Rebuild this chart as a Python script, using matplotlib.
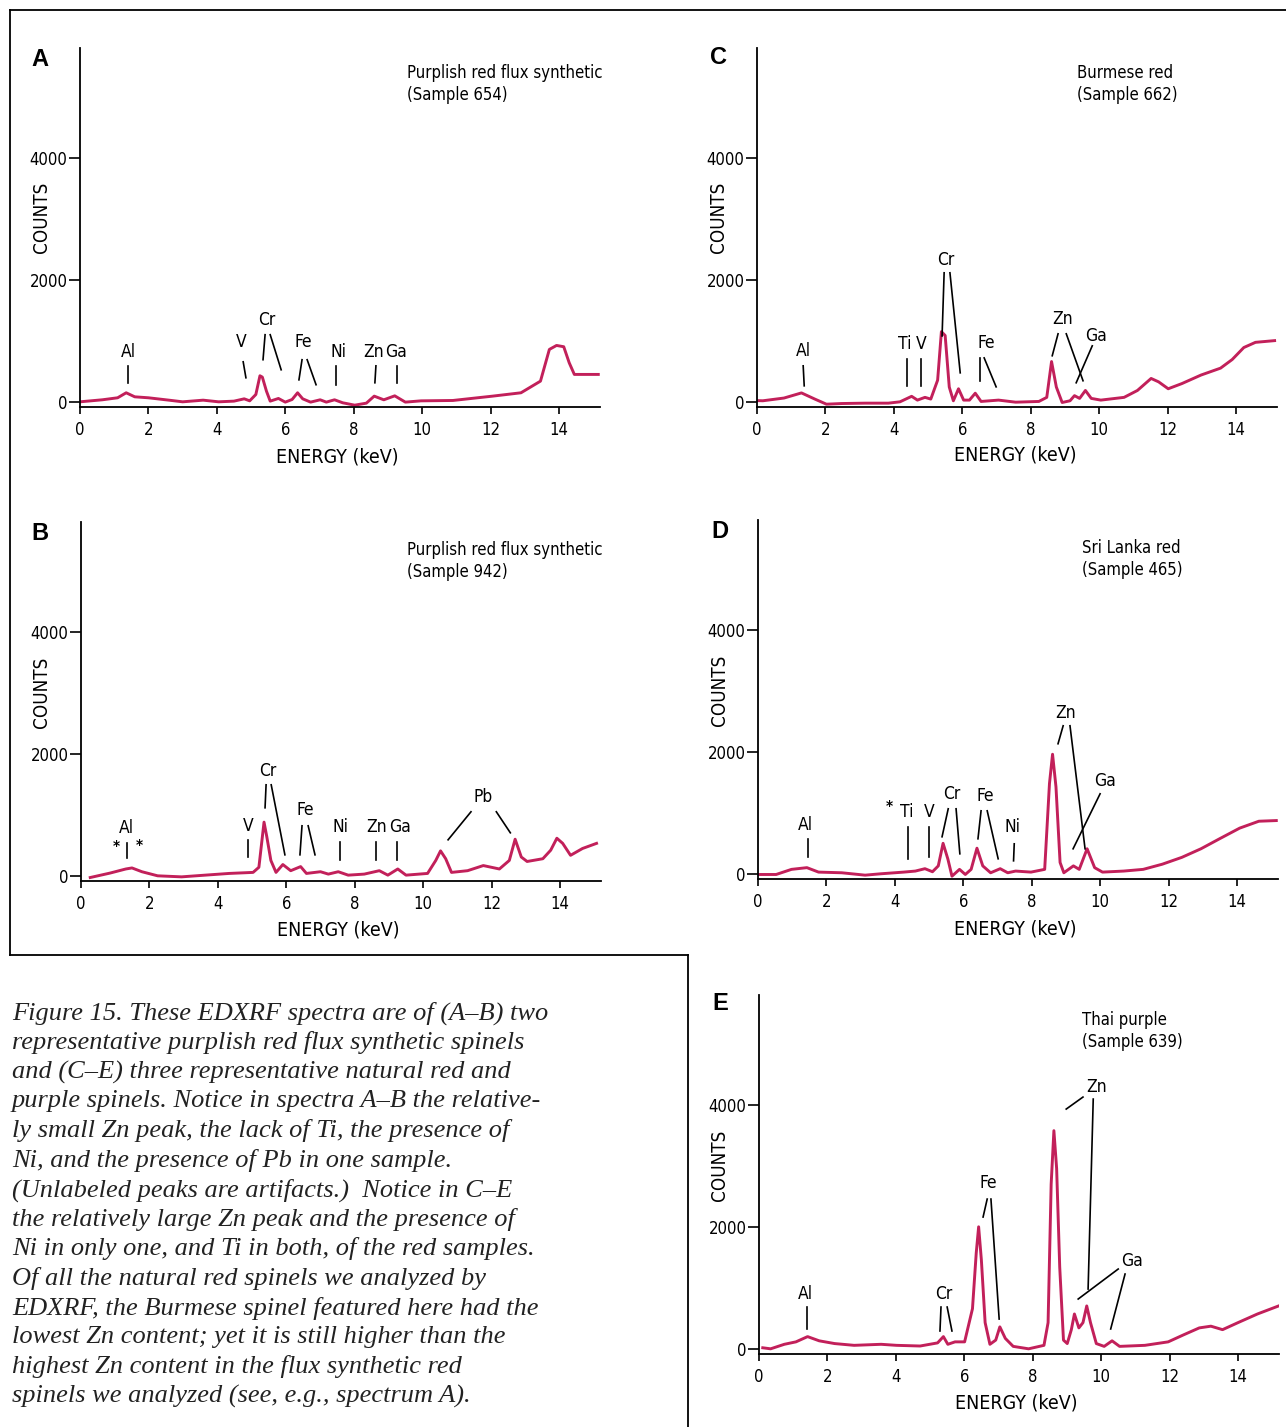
import matplotlib.pyplot as plt
from matplotlib.lines import Line2D

W, H = 1286, 1427
SANS = ['DejaVu Sans']
SERIF = ['Liberation Serif', 'DejaVu Serif']
RED = '#c2205a'
NARROW = dict(family=SANS, stretch='condensed')

# ---- spectra (keV, counts) ----
A_energy = [0.0, 0.65, 1.1, 1.35, 1.6, 2.0, 2.6, 3.0, 3.6, 4.05, 4.5, 4.8, 4.96, 5.14, 5.26,
            5.33, 5.45, 5.56, 5.8, 6.0, 6.2, 6.36, 6.51, 6.74, 7.02, 7.2, 7.44, 7.68, 8.03,
            8.37, 8.6, 8.88, 9.2, 9.51, 9.97, 10.9, 12.06, 12.89, 13.46, 13.72, 13.93, 14.14,
            14.3, 14.45, 15.15]
A_counts = [0, 33, 66, 148, 82, 66, 27, 0, 27, 0, 11, 49, 16, 120, 427,
            405, 175, 11, 55, -5, 38, 148, 49, -5, 33, -5, 33, -16, -55,
            -22, 93, 33, 98, -5, 16, 22, 93, 148, 339, 859, 924, 903,
            640, 449, 449]

B_energy = [0.27, 0.85, 1.31, 1.49, 1.78, 2.24, 2.94, 3.63, 4.33, 5.03, 5.2, 5.35, 5.43, 5.55,
            5.7, 5.9, 6.13, 6.42, 6.59, 7.0, 7.23, 7.52, 7.81, 8.28, 8.72, 8.97, 9.26, 9.5,
            10.13, 10.37, 10.51, 10.66, 10.83, 11.3, 11.76, 12.23, 12.52, 12.69, 12.87, 13.04,
            13.5, 13.73, 13.91, 14.08, 14.31, 14.66, 15.07]
B_counts = [-28, 45, 112, 129, 67, 0, -17, 11, 39, 56, 140, 880, 644, 252,
            56, 185, 84, 151, 39, 67, 28, 67, 11, 28, 84, 11, 112, 11,
            39, 252, 409, 280, 56, 84, 168, 112, 252, 600, 308, 235,
            280, 420, 616, 532, 336, 448, 532]

C_energy = [0.0, 0.17, 0.79, 1.3, 1.69, 2.03, 2.48, 3.16, 3.84, 4.18, 4.52, 4.69, 4.91, 5.08,
            5.28, 5.39, 5.5, 5.62, 5.74, 5.89, 6.04, 6.21, 6.38, 6.55, 7.06, 7.56, 8.24, 8.47,
            8.61, 8.75, 8.92, 9.15, 9.28, 9.43, 9.6, 9.77, 10.05, 10.73, 11.12, 11.52, 11.74,
            12.02, 12.42, 12.98, 13.55, 13.89, 14.23, 14.57, 15.13]
C_counts = [20, 17, 62, 146, 45, -39, -28, -22, -22, 0, 90, 28, 73, 45,
            355, 1150, 1087, 242, 17, 214, 28, 28, 141, 6, 28, -6, 6, 73,
            660, 242, -11, 17, 101, 56, 186, 56, 28, 73, 186, 383, 327,
            214, 299, 439, 552, 693, 890, 975, 1003]

D_energy = [0.0, 0.53, 0.98, 1.43, 1.77, 2.45, 3.13, 3.58, 4.26, 4.6, 4.88, 5.1, 5.27, 5.41,
            5.55, 5.67, 5.89, 6.06, 6.23, 6.4, 6.57, 6.8, 7.08, 7.3, 7.53, 7.98, 8.38, 8.52,
            8.61, 8.71, 8.83, 8.94, 9.22, 9.39, 9.62, 9.84, 10.07, 10.69, 11.26, 11.82, 12.39,
            12.95, 13.51, 14.08, 14.64, 15.15]
D_counts = [-11, -11, 73, 101, 28, 17, -22, 0, 28, 45, 84, 34, 130, 500,
            242, -39, 73, -11, 73, 420, 130, 17, 84, 17, 45, 28, 73, 1480,
            1960, 1425, 186, 17, 130, 73, 411, 101, 28, 45, 73, 158, 270,
            411, 580, 749, 862, 873]

E_energy = [0.11, 0.34, 0.74, 1.08, 1.42, 1.76, 2.21, 2.78, 3.57, 4.02, 4.71, 5.22, 5.39, 5.52,
            5.73, 6.01, 6.24, 6.35, 6.42, 6.5, 6.61, 6.75, 6.92, 7.04, 7.2, 7.43, 7.88, 8.33,
            8.45, 8.54, 8.62, 8.7, 8.79, 8.9, 9.01, 9.13, 9.22, 9.35, 9.47, 9.58, 9.69, 9.86,
            10.09, 10.32, 10.54, 11.28, 11.96, 12.41, 12.87, 13.21, 13.55, 14.0, 14.57, 15.19]
E_counts = [17, 0, 74, 114, 200, 131, 86, 57, 74, 57, 46, 97, 200, 74,
            114, 114, 657, 1571, 2000, 1457, 429, 74, 143, 360, 171, 40, 0, 57,
            429, 2698, 3576, 2956, 1343, 143, 86, 314, 571, 343, 429, 703, 429, 86,
            40, 131, 40, 57, 114, 229, 343, 371, 314, 429, 571, 703]

# ---- element labels (text, keV, counts) and leader lines (x1, y1, x2, y2) ----
A_labels = [("Al", 1.43, 820), ("V", 4.71, 984), ("Cr", 5.47, 1345), ("Fe", 6.52, 984),
            ("Ni", 7.57, 820), ("Zn", 8.57, 820), ("Ga", 9.24, 820)]
A_leaders = [(1.41, 590, 1.41, 312), (4.77, 656, 4.85, 394), (5.41, 1100, 5.35, 690),
             (5.56, 1100, 5.88, 525), (6.49, 690, 6.4, 360), (6.64, 690, 6.9, 280),
             (7.49, 590, 7.49, 280), (8.65, 590, 8.62, 312), (9.27, 590, 9.27, 312)]

B_labels = [("Al", 1.32, 787), ("V", 4.88, 820), ("Cr", 5.47, 1722), ("Fe", 6.55, 1082),
            ("Ni", 7.6, 804), ("Zn", 8.63, 804), ("Ga", 9.33, 804), ("Pb", 11.75, 1296),
            ("*", 1.02, 470), ("*", 1.69, 480)]
B_leaders = [(1.35, 541, 1.35, 295), (4.88, 590, 4.88, 312), (5.41, 1492, 5.38, 1115),
             (5.56, 1492, 5.96, 344), (6.46, 820, 6.4, 344), (6.64, 820, 6.84, 344),
             (7.57, 560, 7.57, 262), (8.63, 560, 8.63, 262), (9.24, 560, 9.24, 262),
             (11.4, 1050, 10.73, 590), (12.14, 1050, 12.55, 705)]

C_labels = [("Al", 1.35, 836), ("Ti", 4.33, 950), ("V", 4.8, 950), ("Cr", 5.53, 2330),
            ("Fe", 6.7, 968), ("Zn", 8.92, 1360), ("Ga", 9.91, 1082)]
C_leaders = [(1.35, 590, 1.38, 262), (4.39, 705, 4.39, 262), (4.8, 705, 4.8, 262),
             (5.47, 2115, 5.41, 1080), (5.64, 2115, 5.94, 475), (6.52, 720, 6.52, 345),
             (6.64, 720, 6.99, 245), (8.8, 1115, 8.63, 755), (9.04, 1115, 9.53, 345),
             (9.8, 918, 9.33, 312)]

D_labels = [("Al", 1.4, 804), ("Ti", 4.36, 1017), ("V", 5.0, 1017), ("Cr", 5.67, 1312),
            ("Fe", 6.64, 1279), ("Ni", 7.43, 771), ("Zn", 9.0, 2640), ("Ga", 10.15, 1525),
            ("*", 3.83, 1080)]
D_leaders = [(1.47, 574, 1.47, 279), (4.39, 771, 4.39, 246), (5.0, 771, 5.0, 279),
             (5.56, 1066, 5.38, 607), (5.79, 1066, 5.9, 328), (6.52, 1033, 6.43, 574),
             (6.7, 1033, 7.02, 246), (7.49, 492, 7.47, 213), (8.92, 2427, 8.77, 2132),
             (9.12, 2427, 9.56, 410), (10.0, 1312, 9.21, 410)]

E_labels = [("Al", 1.37, 898), ("Cr", 5.41, 898), ("Fe", 6.7, 2717), ("Zn", 9.88, 4290),
            ("Ga", 10.91, 1440)]
E_leaders = [(1.4, 685, 1.4, 325), (5.32, 685, 5.29, 292), (5.5, 685, 5.64, 292),
             (6.67, 2455, 6.55, 2160), (6.78, 2455, 7.02, 488), (9.47, 4127, 8.98, 3930),
             (9.77, 4094, 9.62, 980), (10.5, 1308, 9.33, 816), (10.7, 1226, 10.28, 325)]

caption = [
    "Figure 15. These EDXRF spectra are of (A\u2013B) two",
    "representative purplish red flux synthetic spinels",
    "and (C\u2013E) three representative natural red and",
    "purple spinels. Notice in spectra A\u2013B the relative-",
    "ly small Zn peak, the lack of Ti, the presence of",
    "Ni, and the presence of Pb in one sample.",
    "(Unlabeled peaks are artifacts.)  Notice in C\u2013E",
    "the relatively large Zn peak and the presence of",
    "Ni in only one, and Ti in both, of the red samples.",
    "Of all the natural red spinels we analyzed by",
    "EDXRF, the Burmese spinel featured here had the",
    "lowest Zn content; yet it is still higher than the",
    "highest Zn content in the flux synthetic red",
    "spinels we analyzed (see, e.g., spectrum A).",
]

# panel: letter, title lines, data, axes box in pixels (left, top), label positions in pixels
panels = [
    ("A", ["Purplish red flux synthetic", "(Sample 654)"], A_energy, A_counts, A_labels, A_leaders,
     (80, 48), (40, 60), (407, 73), (42, 217), (337, 457)),
    ("B", ["Purplish red flux synthetic", "(Sample 942)"], B_energy, B_counts, B_labels, B_leaders,
     (81, 522), (40, 533), (407, 550), (42, 692), (338, 930)),
    ("C", ["Burmese red", "(Sample 662)"], C_energy, C_counts, C_labels, C_leaders,
     (757, 48), (718, 58), (1077, 73), (718, 217), (1015, 455)),
    ("D", ["Sri Lanka red", "(Sample 465)"], D_energy, D_counts, D_labels, D_leaders,
     (758, 520), (720, 532), (1082, 548), (719, 690), (1015, 929)),
    ("E", ["Thai purple", "(Sample 639)"], E_energy, E_counts, E_labels, E_leaders,
     (759, 995), (720, 1004), (1082, 1020), (720, 1165), (1016, 1403)),
]

AX_W, AX_H = 520, 359


def fx(px):
    return px / W


def fy(py):
    return 1 - py / H


fig = plt.figure(figsize=(W / 100, H / 100), dpi=100)

for letter, title, en, ct, labels, leaders, box, lpos, tpos, cpos, epos in panels:
    left, top = box
    ax = fig.add_axes([fx(left), fy(top + AX_H), AX_W / W, AX_H / H])
    ax.plot(en, ct, color=RED, lw=2.1, solid_joinstyle='round')
    ax.set_xlim(0, 15.2)
    ax.set_ylim(-85, 5800)
    ax.set_xticks(range(0, 15, 2))
    ax.set_yticks([0, 2000, 4000])
    for s in ('top', 'right'):
        ax.spines[s].set_visible(False)
    for s in ('left', 'bottom'):
        ax.spines[s].set_linewidth(1.3)
    ax.tick_params(axis='y', direction='out', length=8, width=1.2, pad=1)
    ax.tick_params(axis='x', direction='out', length=5, width=1.2, pad=5)
    for lab in ax.get_xticklabels() + ax.get_yticklabels():
        lab.set_family(SANS)
        lab.set_stretch('condensed')
        lab.set_fontsize(12)
    for txt, x, y in labels:
        ax.text(x, y, txt, ha='center', va='center', **NARROW,
                fontsize=12.5 if txt != "*" else 11, fontweight='bold' if txt == "*" else 'normal')
    for x1, y1, x2, y2 in leaders:
        ax.plot([x1, x2], [y1, y2], color='black', lw=1.2)

    fig.text(fx(lpos[0]), fy(lpos[1]), letter, ha='center', va='center',
             family=['Liberation Sans', 'DejaVu Sans'], fontsize=17, fontweight='bold')
    fig.text(fx(tpos[0]), fy(tpos[1]), title[0], ha='left', va='center', **NARROW, fontsize=12)
    fig.text(fx(tpos[0]), fy(tpos[1] + 22), title[1], ha='left', va='center', **NARROW, fontsize=12)
    fig.text(fx(cpos[0]), fy(cpos[1]), "COUNTS", ha='center', va='center', rotation=90,
             **NARROW, fontsize=13.5)
    fig.text(fx(epos[0]), fy(epos[1]), "ENERGY (keV)", ha='center', va='center',
             **NARROW, fontsize=14)

# frame around the spectra
frame = [((10, 10), (1286, 10)), ((10, 10), (10, 955)), ((10, 955), (688, 955)),
         ((688, 955), (688, 1427))]
for (x1, y1), (x2, y2) in frame:
    fig.add_artist(Line2D([fx(x1), fx(x2)], [fy(y1), fy(y2)], color='black', lw=1.3))

for i, line in enumerate(caption):
    fig.text(fx(12), fy(1013 + i * 29.5), line, ha='left', va='center', family=SERIF,
             style='italic', fontsize=19, color='#222222')

fig.savefig("out.png", dpi=100)
